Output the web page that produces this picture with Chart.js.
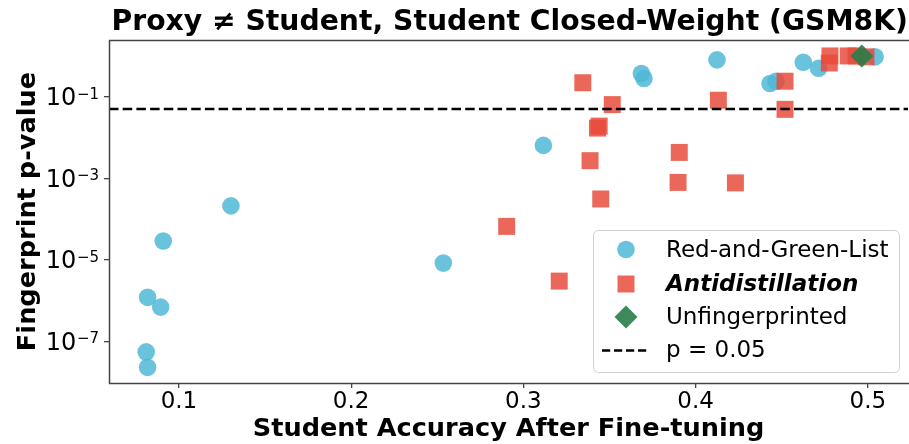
<!DOCTYPE html>
<html><head><meta charset="utf-8">
<script src="https://cdn.jsdelivr.net/npm/chart.js@4.4.1/dist/chart.umd.min.js"></script>
<style>html,body{margin:0;padding:0;background:#fff;overflow:hidden}</style>
</head><body>
<canvas id="c" width="909" height="444" style="display:block;width:909px;height:444px"></canvas>
<script>
// ---------- data ----------
const titleText = 'Proxy \u2260 Student, Student Closed-Weight (GSM8K)';
const xLabel = 'Student Accuracy After Fine-tuning';
const yLabel = 'Fingerprint p-value';
const seriesNames = ['Red-and-Green-List', 'Antidistillation', 'Unfingerprinted', 'p = 0.05'];

const rglX = [0.0909, 0.1302, 0.0818, 0.0894, 0.0810, 0.0818, 0.2535, 0.3116, 0.3685, 0.3700, 0.4124, 0.4432, 0.4467, 0.4625, 0.4714, 0.5042];
const rglP = [2.9e-5, 2.1e-4, 1.2e-6, 6.9e-7, 5.5e-8, 2.3e-8, 8.3e-6, 6.4e-3, 0.37, 0.28, 0.80, 0.21, 0.24, 0.70, 0.50, 0.95];

const antiX = [0.3345, 0.3516, 0.3430, 0.3440, 0.3387, 0.3449, 0.2903, 0.3208, 0.3905, 0.3898, 0.4231, 0.4132, 0.4519, 0.4519, 0.4780, 0.4776, 0.4886, 0.4931, 0.4989];
const antiP = [0.22, 0.064, 0.017, 0.019, 2.7e-3, 3.1e-4, 6.6e-5, 3.0e-6, 4.3e-3, 7.9e-4, 7.7e-4, 0.082, 0.24, 0.049, 1.0, 0.67, 1.0, 1.0, 0.95];

const unfpX = [0.4965];
const unfpP = [1.0];

const threshold = 0.05;
const xTicks = [0.1, 0.2, 0.3, 0.4, 0.5];
const yTickExps = [-1, -3, -5, -7];

const X_MIN = 0.0594, X_MAX = 0.5233;
const Y_MIN = 9.5e-9, Y_MAX = 2.46;

// ---------- styles ----------
const FAM = '"DejaVu Sans", "Liberation Sans", sans-serif';
const C_BLUE = 'rgba(80,185,215,0.85)';
const C_RED = 'rgba(231,76,60,0.85)';
const C_GREEN = 'rgba(40,125,75,0.9)';
const SPINE = '#444';

const mctx = document.createElement('canvas').getContext('2d');
function inkWidth(text, font) { mctx.font = font; const m = mctx.measureText(text); return m.actualBoundingBoxLeft + m.actualBoundingBoxRight; }
function fitSize(text, weight, target) { return 100 * target / inkWidth(text, weight + ' 100px ' + FAM); }
const titleSize = fitSize(titleText, 'bold', 792);
const xLabelSize = fitSize(xLabel, 'bold', 508);
const yLabelSize = xLabelSize;

const TITLE_BASE = 32, TITLE_BLOCK = 40;
const tPadTop = TITLE_BASE - 0.346 * titleSize - titleSize / 2;
const tPadBot = TITLE_BLOCK - titleSize - tPadTop;
const XL_BASE = 438;
const xlPadBot = 444 - xLabelSize / 2 - (XL_BASE - 0.346 * xLabelSize);

const pts = (xs, ys) => xs.map((x, i) => ({x: x, y: ys[i]}));

const decorPlugin = {
  id: 'decor',
  afterDatasetsDraw(chart) {
    const ctx = chart.ctx, a = chart.chartArea;
    const ys = chart.scales.y;
    ctx.save();
    // spines
    ctx.strokeStyle = SPINE; ctx.lineWidth = 1.5;
    ctx.beginPath();
    ctx.moveTo(a.right + 2, a.top + 0.5); ctx.lineTo(a.left + 0.5, a.top + 0.5);
    ctx.lineTo(a.left + 0.5, a.bottom + 0.5); ctx.lineTo(a.right + 2, a.bottom + 0.5);
    ctx.stroke();
    // y tick labels 10^n
    ctx.fillStyle = '#000';
    ctx.textBaseline = 'alphabetic';
    yTickExps.forEach(e => {
      const py = ys.getPixelForValue(Math.pow(10, e));
      const expTxt = '\u2212' + Math.abs(e);
      ctx.font = '15px ' + FAM;
      ctx.textAlign = 'right';
      const xr = 99;
      ctx.fillText(expTxt, xr, py + 2);
      const ew = ctx.measureText(expTxt).width;
      ctx.font = '24px ' + FAM;
      ctx.fillText('10', xr - ew - 0.5, py + 8.5);
    });
    // y axis label
    ctx.save();
    ctx.translate(35, (a.top + a.bottom) / 2);
    ctx.rotate(-Math.PI / 2);
    ctx.font = 'bold ' + yLabelSize.toFixed(2) + 'px ' + FAM;
    ctx.textAlign = 'center';
    ctx.fillText(yLabel, 0, 0);
    ctx.restore();
    ctx.restore();
  },
  afterDraw(chart) {
    const ctx = chart.ctx;
    const ds = chart.data.datasets;
    ctx.save();
    // legend frame
    ctx.beginPath();
    ctx.roundRect(593.5, 230.5, 306, 142, 5);
    ctx.fillStyle = 'rgba(255,255,255,0.8)';
    ctx.fill();
    ctx.strokeStyle = '#d0d0d0'; ctx.lineWidth = 1;
    ctx.stroke();
    const mx = 626;
    ctx.fillStyle = ds[0].backgroundColor;
    ctx.beginPath(); ctx.arc(mx, 249.5, ds[0].pointRadius, 0, Math.PI * 2); ctx.fill();
    ctx.fillStyle = ds[1].backgroundColor;
    const hs = ds[1].pointRadius * Math.SQRT1_2;
    ctx.fillRect(mx - hs, 284 - hs, 2 * hs, 2 * hs);
    ctx.fillStyle = ds[2].backgroundColor;
    const r = ds[2].pointRadius;
    ctx.beginPath(); ctx.moveTo(mx - r, 317); ctx.lineTo(mx, 317 - r); ctx.lineTo(mx + r, 317); ctx.lineTo(mx, 317 + r); ctx.closePath(); ctx.fill();
    ctx.strokeStyle = ds[3].borderColor; ctx.lineWidth = ds[3].borderWidth;
    ctx.setLineDash([8.2, 3.8]);
    ctx.beginPath(); ctx.moveTo(602, 350.5); ctx.lineTo(647, 350.5); ctx.stroke();
    ctx.setLineDash([]);
    ctx.fillStyle = '#000'; ctx.textAlign = 'left'; ctx.textBaseline = 'alphabetic';
    const tx = 666, bases = [257, 290.5, 323.5, 357];
    seriesNames.forEach((n, i) => {
      ctx.font = (i === 1 ? 'italic bold ' : '') + '23px ' + FAM;
      ctx.fillText(n, tx, bases[i]);
    });
    ctx.restore();
  }
};

new Chart(document.getElementById('c'), {
  type: 'scatter',
  data: {
    datasets: [
      {label: seriesNames[0], data: pts(rglX, rglP), backgroundColor: C_BLUE, borderWidth: 0, pointStyle: 'circle', pointRadius: 8.8, order: 3},
      {label: seriesNames[1], data: pts(antiX, antiP), backgroundColor: C_RED, borderWidth: 0, pointStyle: 'rect', pointRadius: 12, order: 2},
      {label: seriesNames[2], data: pts(unfpX, unfpP), backgroundColor: C_GREEN, borderWidth: 0, pointStyle: 'rectRot', pointRadius: 11.5, order: 1},
      {label: seriesNames[3], type: 'line', data: [{x: X_MIN, y: threshold}, {x: X_MAX, y: threshold}], borderColor: '#000', borderWidth: 2.5, borderDash: [9.5, 4.2], pointRadius: 0, fill: false, order: 0}
    ]
  },
  options: {
    responsive: false,
    animation: false,
    devicePixelRatio: 1,
    layout: {padding: {left: 0, top: 0, right: 1, bottom: 0}, autoPadding: false},
    plugins: {
      legend: {display: false},
      tooltip: {enabled: false},
      title: {
        display: true, text: titleText, color: '#000', align: 'end',
        font: {family: FAM, size: titleSize, weight: 'bold', lineHeight: 1},
        padding: {top: tPadTop, bottom: tPadBot}
      }
    },
    scales: {
      x: {
        type: 'linear', min: X_MIN, max: X_MAX,
        afterBuildTicks: s => { s.ticks = xTicks.map(v => ({value: v})); },
        afterFit: s => { s.height = 61; },
        ticks: {color: '#000', font: {family: FAM, size: 23}, padding: 0, maxRotation: 0, autoSkip: false,
                callback: v => v.toFixed(1)},
        grid: {display: true, drawOnChartArea: false, drawTicks: true, tickLength: 5, color: SPINE, lineWidth: 1.3},
        border: {display: false},
        title: {display: true, text: xLabel, color: '#000',
                font: {family: FAM, size: xLabelSize, weight: 'bold', lineHeight: 1},
                padding: {top: 0, bottom: xlPadBot}}
      },
      y: {
        type: 'logarithmic', min: Y_MIN, max: Y_MAX,
        afterBuildTicks: s => { s.ticks = yTickExps.map(e => ({value: Math.pow(10, e)})); },
        afterFit: s => { s.width = 109; },
        ticks: {display: false},
        grid: {display: true, drawOnChartArea: false, drawTicks: true, tickLength: 5, color: SPINE, lineWidth: 1.3},
        border: {display: false},
        title: {display: false}
      }
    }
  },
  plugins: [decorPlugin]
});
</script>
</body></html>
